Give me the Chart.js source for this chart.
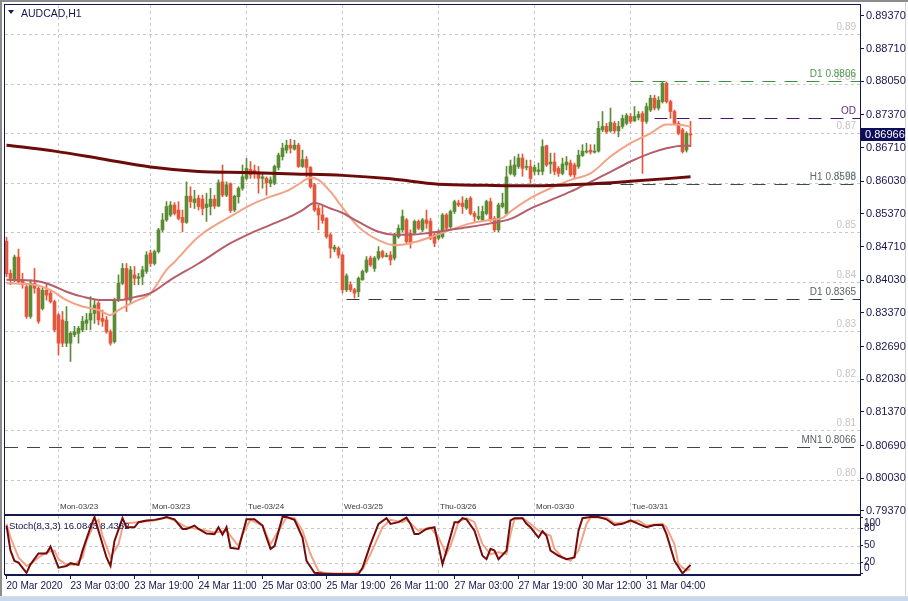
<!DOCTYPE html>
<html>
<head>
<meta charset="utf-8">
<script src="https://cdn.jsdelivr.net/npm/chart.js@4.4.1/dist/chart.umd.min.js"></script>
<style>
html, body { margin: 0; padding: 0; background: #fff; }
#wrap { position: relative; width: 908px; height: 601px; overflow: hidden; background: #fff; }
#wrap canvas { position: absolute; left: 0; top: 0; }
.edge { position: absolute; }
</style>
</head>
<body>
<div id="wrap">
  <div class="edge" style="left:0;top:0;width:908px;height:2px;background:#8c8c8c"></div>
  <div class="edge" style="left:0;top:0;width:2px;height:597px;background:#8c8c8c"></div>
  <div class="edge" style="left:905px;top:2px;width:1px;height:595px;background:#d4d4d4"></div>
  <div class="edge" style="left:0;top:596px;width:908px;height:1px;background:#dcdcdc"></div>
  <div class="edge" style="left:0;top:597px;width:908px;height:4px;background:#c7d9ee"></div>
  <canvas id="main" width="908" height="601"></canvas>
  <canvas id="stoch" width="908" height="601"></canvas>
</div>
<script>
// AUDCAD H1, one candle per hour from 20 Mar 2020 11:00
const opens = [
  0.8482,0.8417,0.8404,0.8450,0.8404,0.8390,0.8330,0.8397,0.8387,0.8346,
  0.8383,0.8377,0.8360,0.8333,0.8323,0.8276,0.8276,0.8293,0.8296,0.8303,
  0.8316,0.8323,0.8336,0.8357,0.8326,0.8323,0.8299,0.8279,0.8363,0.8397,
  0.8427,0.8363,0.8414,0.8407,0.8410,0.8421,0.8458,0.8437,0.8461,0.8505,
  0.8525,0.8535,0.8555,0.8545,0.8530,0.8520,0.8573,0.8560,0.8569,0.8567,
  0.8550,0.8552,0.8567,0.8553,0.8602,0.8575,0.8598,0.8545,0.8572,0.8589,
  0.8609,0.8627,0.8625,0.8619,0.8609,0.8609,0.8599,0.8599,0.8631,0.8653,
  0.8666,0.8676,0.8668,0.8676,0.8633,0.8647,0.8631,0.8596,0.8548,0.8535,
  0.8528,0.8495,0.8466,0.8468,0.8454,0.8384,0.8394,0.8384,0.8380,0.8404,
  0.8421,0.8448,0.8427,0.8448,0.8461,0.8451,0.8454,0.8448,0.8491,0.8505,
  0.8525,0.8498,0.8498,0.8522,0.8505,0.8525,0.8522,0.8495,0.8488,0.8491,
  0.8535,0.8511,0.8542,0.8559,0.8559,0.8549,0.8569,0.8538,0.8528,0.8525,
  0.8538,0.8562,0.8528,0.8505,0.8552,0.8538,0.8619,0.8616,0.8633,0.8650,
  0.8631,0.8633,0.8623,0.8623,0.8623,0.8675,0.8638,0.8642,0.8629,0.8619,
  0.8636,0.8640,0.8636,0.8633,0.8655,0.8662,0.8666,0.8662,0.8664,0.8707,
  0.8714,0.8705,0.8720,0.8705,0.8714,0.8720,0.8734,0.8725,0.8732,0.8740,
  0.8724,0.8747,0.8771,0.8751,0.8764,0.8801,0.8764,0.8744,0.8720,0.8707,
  0.8666,0.8698
];
const highs = [
  0.8490,0.8424,0.8454,0.8466,0.8417,0.8397,0.8404,0.8427,0.8390,0.8390,
  0.8397,0.8383,0.8363,0.8336,0.8340,0.8350,0.8299,0.8310,0.8310,0.8330,
  0.8336,0.8370,0.8363,0.8360,0.8343,0.8330,0.8303,0.8367,0.8414,0.8437,
  0.8437,0.8431,0.8431,0.8417,0.8431,0.8461,0.8464,0.8464,0.8508,0.8538,
  0.8562,0.8562,0.8560,0.8562,0.8545,0.8602,0.8592,0.8585,0.8575,0.8575,
  0.8579,0.8589,0.8575,0.8606,0.8636,0.8602,0.8600,0.8575,0.8592,0.8636,
  0.8649,0.8643,0.8636,0.8633,0.8619,0.8612,0.8612,0.8636,0.8660,0.8680,
  0.8686,0.8688,0.8686,0.8680,0.8666,0.8653,0.8633,0.8599,0.8555,0.8555,
  0.8530,0.8498,0.8474,0.8471,0.8456,0.8416,0.8400,0.8387,0.8410,0.8424,
  0.8451,0.8452,0.8451,0.8471,0.8464,0.8458,0.8461,0.8498,0.8515,0.8545,
  0.8528,0.8505,0.8525,0.8525,0.8528,0.8545,0.8528,0.8498,0.8505,0.8538,
  0.8538,0.8545,0.8565,0.8565,0.8572,0.8569,0.8572,0.8542,0.8552,0.8553,
  0.8565,0.8569,0.8532,0.8559,0.8579,0.8633,0.8646,0.8653,0.8658,0.8658,
  0.8646,0.8646,0.8636,0.8640,0.8687,0.8676,0.8660,0.8660,0.8633,0.8650,
  0.8653,0.8646,0.8640,0.8666,0.8677,0.8680,0.8677,0.8677,0.8724,0.8744,
  0.8720,0.8751,0.8724,0.8724,0.8737,0.8740,0.8740,0.8754,0.8744,0.8744,
  0.8761,0.8777,0.8777,0.8774,0.8804,0.8804,0.8767,0.8747,0.8724,0.8710,
  0.8703,0.8724
];
const lows = [
  0.8410,0.8394,0.8400,0.8397,0.8387,0.8326,0.8326,0.8377,0.8316,0.8343,
  0.8363,0.8357,0.8299,0.8252,0.8269,0.8269,0.8239,0.8289,0.8276,0.8299,
  0.8303,0.8303,0.8316,0.8313,0.8310,0.8296,0.8272,0.8276,0.8360,0.8394,
  0.8340,0.8357,0.8394,0.8394,0.8394,0.8417,0.8431,0.8434,0.8458,0.8501,
  0.8522,0.8532,0.8535,0.8525,0.8501,0.8518,0.8550,0.8548,0.8545,0.8535,
  0.8522,0.8535,0.8548,0.8552,0.8572,0.8572,0.8540,0.8542,0.8559,0.8585,
  0.8606,0.8609,0.8609,0.8579,0.8589,0.8575,0.8592,0.8596,0.8626,0.8646,
  0.8660,0.8660,0.8666,0.8631,0.8631,0.8612,0.8589,0.8542,0.8505,0.8518,
  0.8488,0.8448,0.8461,0.8448,0.8377,0.8380,0.8380,0.8367,0.8370,0.8403,
  0.8418,0.8431,0.8421,0.8444,0.8448,0.8450,0.8434,0.8444,0.8488,0.8501,
  0.8478,0.8468,0.8495,0.8505,0.8501,0.8508,0.8485,0.8471,0.8485,0.8488,
  0.8505,0.8508,0.8538,0.8552,0.8538,0.8546,0.8535,0.8522,0.8525,0.8522,
  0.8535,0.8522,0.8501,0.8501,0.8549,0.8535,0.8616,0.8613,0.8629,0.8613,
  0.8626,0.8599,0.8616,0.8616,0.8616,0.8633,0.8619,0.8616,0.8613,0.8616,
  0.8626,0.8613,0.8609,0.8629,0.8653,0.8660,0.8658,0.8660,0.8662,0.8703,
  0.8700,0.8702,0.8700,0.8693,0.8710,0.8717,0.8720,0.8724,0.8727,0.8619,
  0.8720,0.8744,0.8747,0.8747,0.8761,0.8761,0.8730,0.8717,0.8697,0.8660,
  0.8662,0.8673
];
const closes = [
  0.8416,0.8407,0.8450,0.8400,0.8394,0.8330,0.8397,0.8387,0.8320,0.8383,
  0.8373,0.8360,0.8303,0.8276,0.8276,0.8320,0.8296,0.8299,0.8306,0.8320,
  0.8323,0.8336,0.8353,0.8323,0.8320,0.8299,0.8276,0.8363,0.8397,0.8427,
  0.8363,0.8424,0.8407,0.8410,0.8424,0.8454,0.8437,0.8461,0.8505,0.8525,
  0.8552,0.8555,0.8538,0.8528,0.8520,0.8573,0.8562,0.8567,0.8552,0.8548,
  0.8557,0.8567,0.8553,0.8600,0.8575,0.8596,0.8544,0.8573,0.8589,0.8612,
  0.8629,0.8616,0.8618,0.8609,0.8612,0.8600,0.8606,0.8633,0.8656,0.8670,
  0.8676,0.8670,0.8676,0.8633,0.8647,0.8631,0.8592,0.8545,0.8535,0.8524,
  0.8491,0.8468,0.8470,0.8454,0.8384,0.8412,0.8384,0.8377,0.8407,0.8421,
  0.8444,0.8434,0.8448,0.8461,0.8451,0.8453,0.8444,0.8495,0.8508,0.8532,
  0.8481,0.8478,0.8522,0.8508,0.8525,0.8518,0.8488,0.8478,0.8501,0.8535,
  0.8508,0.8542,0.8562,0.8555,0.8552,0.8565,0.8538,0.8532,0.8532,0.8542,
  0.8562,0.8525,0.8505,0.8555,0.8559,0.8612,0.8634,0.8636,0.8650,0.8629,
  0.8633,0.8609,0.8631,0.8626,0.8673,0.8636,0.8642,0.8623,0.8619,0.8638,
  0.8642,0.8616,0.8616,0.8656,0.8664,0.8664,0.8662,0.8664,0.8710,0.8714,
  0.8703,0.8722,0.8705,0.8714,0.8730,0.8736,0.8724,0.8734,0.8738,0.8724,
  0.8754,0.8771,0.8751,0.8767,0.8801,0.8764,0.8744,0.8720,0.8700,0.8663,
  0.8700,0.86966
];

// moving averages: [bar index, price]
const maFast = [
  [0,0.8397],[7,0.8394],[11,0.8383],[15,0.8363],[19,0.8350],[23,0.8343],[26,0.8333],
  [28,0.8343],[32,0.8360],[36,0.8377],[40,0.8424],[42,0.8440],[48,0.8491],[56,0.8532],
  [61,0.8555],[66,0.8572],[70,0.8583],[73,0.8597],[76,0.8610],[78,0.8606],[81,0.8582],
  [84,0.8550],[88,0.8511],[93,0.8484],[97,0.8474],[101,0.8478],[106,0.8490],[111,0.8505],
  [116,0.8518],[121,0.8525],[124,0.8529],[126,0.8542],[131,0.8569],[136,0.8589],
  [141,0.8606],[146,0.8619],[151,0.8653],[156,0.8680],[161,0.8700],[165,0.8718],
  [169,0.8717],[171,0.8713]
];
const maMid = [
  [0,0.8404],[7,0.8402],[11,0.8394],[15,0.8380],[19,0.8370],[24,0.8363],[28,0.8363],
  [32,0.8369],[36,0.8377],[41,0.8404],[48,0.8437],[56,0.8478],[61,0.8498],[66,0.8515],
  [71,0.8532],[74,0.8545],[77,0.8559],[81,0.8548],[84,0.8539],[88,0.8521],[93,0.8501],
  [97,0.8495],[101,0.8495],[106,0.8499],[111,0.8505],[116,0.8511],[121,0.8518],
  [126,0.8527],[131,0.8548],[136,0.8565],[141,0.8582],[146,0.8602],[151,0.8622],
  [156,0.8643],[161,0.8660],[165,0.8670],[169,0.8675],[171,0.8675]
];
const maSlow = [
  [0,0.8676],[12,0.8664],[24,0.8648],[36,0.8632],[48,0.8623],[60,0.8621],[72,0.8618],
  [84,0.8615],[96,0.8608],[108,0.8597],[120,0.8595],[132,0.8594],[144,0.8597],
  [156,0.8603],[171,0.8612]
];

// Stochastic (8,3,3): [bar index, value]
const stochMain = [
  [0,85],[1,41],[2,23],[3,20],[5,2],[6,17],[8,36],[10,36],[11,48],[13,11],[15,14],[16,19],
  [18,16],[19,41],[21,82],[22,100],[23,76],[25,29],[26,14],[27,58],[29,98],[30,82],[32,82],
  [33,91],[35,94],[37,95],[39,98],[40,100],[42,96],[44,79],[45,79],[47,85],[48,79],[50,71],
  [52,70],[53,82],[54,69],[55,82],[56,46],[58,44],[60,96],[62,96],[64,85],[65,64],[66,44],
  [67,49],[69,100],[70,100],[72,95],[74,64],[75,23],[77,2],[79,1],[82,0],[88,0],[89,11],
  [91,52],[93,88],[95,98],[96,88],[98,91],[100,99],[101,88],[102,70],[103,70],[105,79],
  [107,82],[109,17],[110,41],[112,91],[113,91],[114,98],[115,96],[117,76],[119,32],[120,26],
  [121,44],[122,41],[123,26],[125,41],[126,94],[127,98],[129,98],[130,88],[131,82],[133,64],
  [134,75],[135,67],[136,41],[138,32],[140,26],[142,29],[143,76],[144,98],[146,100],
  [148,100],[150,96],[152,86],[154,88],[156,94],[158,88],[160,82],[162,86],[164,86],
  [165,70],[167,23],[169,1],[171,16.08]
];
const stochSignal = [
  [0,88],[1,64],[3,29],[5,14],[6,17],[8,29],[10,38],[12,41],[13,26],[15,16],[17,16],
  [19,29],[20,58],[22,88],[23,95],[24,67],[26,29],[28,52],[29,82],[30,89],[33,91],[37,94],
  [40,99],[42,94],[45,82],[48,79],[52,73],[55,76],[58,49],[59,70],[61,95],[64,85],[66,52],
  [68,76],[70,99],[72,98],[74,76],[76,35],[78,5],[80,1],[87,1],[89,8],[91,35],[94,82],
  [96,95],[99,91],[100,95],[103,76],[106,82],[108,64],[110,35],[111,50],[112,70],[113,92],
  [115,98],[117,91],[119,52],[121,35],[123,38],[125,35],[126,70],[127,96],[129,98],
  [131,88],[133,76],[136,67],[137,44],[139,29],[141,23],[143,41],[145,88],[146,99],
  [150,99],[152,89],[155,91],[158,94],[160,85],[164,88],[165,82],[167,52],[168,17],
  [170,6],[171,8.44]
];

// axes and annotations
const priceTicks = [0.89370,0.88710,0.88050,0.87370,0.86710,0.86030,0.85370,0.84710,
  0.84030,0.83370,0.82690,0.82030,0.81370,0.80690,0.80030,0.79370];
const roundLevels = [0.89,0.88,0.87,0.86,0.85,0.84,0.83,0.82,0.81,0.80];
const levelNames = ['D1 0.8806','OD','H1 0.8598','D1 0.8365','MN1 0.8066'];
const levelPrices = [0.8806,0.8731,0.8598,0.8365,0.8066];
const levelStart = [156,162,148,85,-1];
const levelColors = ['#3f8f3f','#4b1470','#3b4b4b','#3a3a3a','#3b4848'];
const levelTextColors = ['#4f9a4f','#5a2d82','#5c6a6a','#585f5f','#566262'];
const sepIdx = [13,36,60,84,108,132,156];
const sepLabels = ['Mon-03/23','Mon-03/23','Tue-03/24','Wed-03/25','Thu-03/26','Mon-03/30','Tue-03/31'];
const timeTickIdx = [0,16,32,48,64,80,96,112,128,144,160];
const timeTickLabels = ['20 Mar 2020','23 Mar 03:00','23 Mar 19:00','24 Mar 11:00','25 Mar 03:00',
  '25 Mar 19:00','26 Mar 11:00','27 Mar 03:00','27 Mar 19:00','30 Mar 12:00','31 Mar 04:00'];
const stochLevels = [100,80,50,20,0];

const FONT = "'Liberation Sans', Arial, sans-serif";
const NAVY = '#17174f';
const GREEN = '#5b8b34';
const RED = '#e4573a';
const xMin = -0.375, xMax = 213.375;
const idx = closes.map((_, i) => i);
const candleColor = c => closes[c.dataIndex] >= opens[c.dataIndex] ? GREEN : RED;

function dashedVertical(ctx, chart) {
  const a = chart.chartArea, x = chart.scales.x;
  ctx.save();
  ctx.strokeStyle = '#c8c8c8';
  ctx.lineWidth = 1;
  ctx.setLineDash([3, 3]);
  sepIdx.forEach(i => {
    const px = Math.floor(x.getPixelForValue(i)) + 0.5;
    ctx.beginPath(); ctx.moveTo(px, a.top); ctx.lineTo(px, a.bottom); ctx.stroke();
  });
  ctx.restore();
}

const mainDecor = {
  id: 'mainDecor',
  beforeDatasetsDraw(chart) {
    const {ctx, chartArea: a, scales: {x, y}} = chart;
    ctx.save();
    ctx.beginPath(); ctx.rect(a.left, a.top, a.width, a.height); ctx.clip();
    dashedVertical(ctx, chart);
    ctx.lineWidth = 1;
    ctx.setLineDash([3, 3]);
    ctx.strokeStyle = '#c8c8c8';
    ctx.font = '10px ' + FONT;
    ctx.textAlign = 'right';
    ctx.textBaseline = 'alphabetic';
    roundLevels.forEach(v => {
      const py = Math.round(y.getPixelForValue(v)) + 0.5;
      ctx.beginPath(); ctx.moveTo(a.left, py); ctx.lineTo(a.right, py); ctx.stroke();
      ctx.fillStyle = '#c4c4c4';
      ctx.fillText(v.toFixed(2), a.right - 4, py - 5);
    });
    ctx.setLineDash([13, 9]);
    levelPrices.forEach((v, k) => {
      const py = Math.round(y.getPixelForValue(v)) + 0.5;
      const px0 = Math.max(a.left, x.getPixelForValue(levelStart[k]));
      ctx.strokeStyle = levelColors[k];
      ctx.beginPath(); ctx.moveTo(px0, py); ctx.lineTo(a.right, py); ctx.stroke();
      ctx.fillStyle = levelTextColors[k];
      ctx.fillText(levelNames[k], a.right - 4, py - 5);
    });
    ctx.setLineDash([]);
    ctx.font = '8px ' + FONT;
    ctx.textAlign = 'left';
    ctx.fillStyle = '#3a3a3a';
    sepIdx.forEach((i, k) => {
      ctx.fillText(sepLabels[k], Math.floor(x.getPixelForValue(i)) + 2, a.bottom - 5);
    });
    ctx.restore();
  },
  afterDraw(chart) {
    const {ctx, chartArea: a, scales: {y}} = chart;
    ctx.save();
    ctx.strokeStyle = NAVY;
    ctx.lineWidth = 1;
    ctx.strokeRect(a.left - 0.5, a.top - 0.5, a.width + 1, a.height + 1);
    // title
    ctx.fillStyle = NAVY;
    ctx.beginPath(); ctx.moveTo(8, 10); ctx.lineTo(14, 10); ctx.lineTo(11, 14); ctx.closePath(); ctx.fill();
    ctx.font = '10.5px ' + FONT;
    ctx.textBaseline = 'alphabetic';
    ctx.fillText('AUDCAD,H1', 21, 16.5);
    // current price marker
    const last = closes[closes.length - 1];
    const py = y.getPixelForValue(last);
    ctx.fillStyle = '#0d0d5a';
    ctx.fillRect(a.right + 1, Math.round(py) - 7, 44, 13);
    ctx.fillStyle = '#ffffff';
    ctx.font = '11px ' + FONT;
    ctx.textBaseline = 'middle';
    ctx.fillText(last.toFixed(5), a.right + 5, Math.round(py));
    ctx.restore();
  }
};

new Chart(document.getElementById('main'), {
  type: 'bar',
  data: {
    datasets: [
      { type: 'line', label: 'MA slow', data: maSlow.map(p => ({x: p[0], y: p[1]})),
        borderColor: '#6d0b0b', borderWidth: 3, pointRadius: 0, cubicInterpolationMode: 'monotone', order: 1 },
      { type: 'line', label: 'MA mid', data: maMid.map(p => ({x: p[0], y: p[1]})),
        borderColor: '#b75d69', borderWidth: 2, pointRadius: 0, cubicInterpolationMode: 'monotone', order: 2 },
      { type: 'line', label: 'MA fast', data: maFast.map(p => ({x: p[0], y: p[1]})),
        borderColor: '#f3a385', borderWidth: 2, pointRadius: 0, cubicInterpolationMode: 'monotone', order: 3 },
      { label: 'body', data: idx.map(i => ({x: i, y: [opens[i], closes[i]]})),
        backgroundColor: candleColor, barThickness: 3, minBarLength: 1, grouped: false, order: 4 },
      { label: 'wick', data: idx.map(i => ({x: i, y: [lows[i], highs[i]]})),
        backgroundColor: candleColor, barThickness: 1, grouped: false, order: 5 }
    ]
  },
  options: {
    responsive: false,
    animation: false,
    events: [],
    layout: { padding: { left: 5, top: 5, right: 0, bottom: 87 } },
    plugins: { legend: { display: false }, tooltip: { enabled: false } },
    scales: {
      x: { type: 'linear', min: xMin, max: xMax, offset: false, display: false },
      y: {
        position: 'right', min: 0.79309, max: 0.89592,
        afterFit: s => { s.width = 48; s.paddingTop = 0; s.paddingBottom = 0; },
        afterBuildTicks: s => { s.ticks = priceTicks.map(v => ({value: v})); },
        ticks: { autoSkip: false, padding: 2, color: NAVY, font: { family: FONT, size: 11 },
                 callback: v => Number(v).toFixed(5) },
        grid: { drawOnChartArea: false, drawTicks: true, tickLength: 4, tickColor: NAVY },
        border: { color: NAVY, width: 1 }
      }
    }
  },
  plugins: [mainDecor]
});

const stochDecor = {
  id: 'stochDecor',
  beforeDatasetsDraw(chart) {
    const {ctx, chartArea: a, scales: {y}} = chart;
    ctx.save();
    dashedVertical(ctx, chart);
    ctx.strokeStyle = '#c8c8c8';
    ctx.lineWidth = 1;
    ctx.setLineDash([3, 3]);
    [80, 50, 20].forEach(v => {
      const py = Math.round(y.getPixelForValue(v)) + 0.5;
      ctx.beginPath(); ctx.moveTo(a.left, py); ctx.lineTo(a.right, py); ctx.stroke();
    });
    ctx.restore();
  },
  afterDraw(chart) {
    const {ctx, chartArea: a, scales: {y}} = chart;
    ctx.save();
    ctx.strokeStyle = NAVY;
    ctx.lineWidth = 1;
    ctx.strokeRect(a.left - 0.5, a.top - 0.5, a.width + 1, a.height);
    ctx.fillStyle = NAVY;
    ctx.font = '9.5px ' + FONT;
    ctx.textBaseline = 'alphabetic';
    ctx.fillText('Stoch(8,3,3) 16.0843 8.4382', 9, a.top + 13);
    ctx.font = '10px ' + FONT;
    ctx.textBaseline = 'middle';
    stochLevels.forEach(v => {
      const py = Math.min(Math.max(y.getPixelForValue(v), a.top + 7), a.bottom - 7);
      ctx.fillText(String(v), a.right + 4, py);
    });
    ctx.restore();
  }
};

new Chart(document.getElementById('stoch'), {
  type: 'line',
  data: {
    datasets: [
      { label: 'main', data: stochMain.map(p => ({x: p[0], y: p[1]})),
        borderColor: '#760b0b', borderWidth: 2, pointRadius: 0, order: 1 },
      { label: 'signal', data: stochSignal.map(p => ({x: p[0], y: p[1]})),
        borderColor: '#f3a385', borderWidth: 2, pointRadius: 0, order: 2 }
    ]
  },
  options: {
    responsive: false,
    animation: false,
    events: [],
    layout: { padding: { left: 5, top: 516, right: 0, bottom: 0 } },
    plugins: { legend: { display: false }, tooltip: { enabled: false } },
    scales: {
      x: {
        type: 'linear', min: xMin, max: xMax, offset: false,
        afterFit: s => { s.height = 26; s.paddingLeft = 0; s.paddingRight = 0; },
        afterBuildTicks: s => { s.ticks = timeTickIdx.map(v => ({value: v})); },
        ticks: { autoSkip: false, maxRotation: 0, align: 'start', padding: 1, color: NAVY,
                 font: { family: FONT, size: 10 }, callback: (v, i) => timeTickLabels[i] },
        grid: { drawOnChartArea: false, tickLength: 4, tickColor: NAVY },
        border: { color: NAVY }
      },
      y: {
        position: 'right', min: -1.8, max: 101.8,
        afterFit: s => { s.width = 48; s.paddingTop = 0; s.paddingBottom = 0; },
        afterBuildTicks: s => { s.ticks = stochLevels.map(v => ({value: v})); },
        ticks: { display: false },
        grid: { drawOnChartArea: false, tickLength: 3, tickColor: NAVY },
        border: { color: NAVY }
      }
    }
  },
  plugins: [stochDecor]
});
</script>
</body>
</html>
